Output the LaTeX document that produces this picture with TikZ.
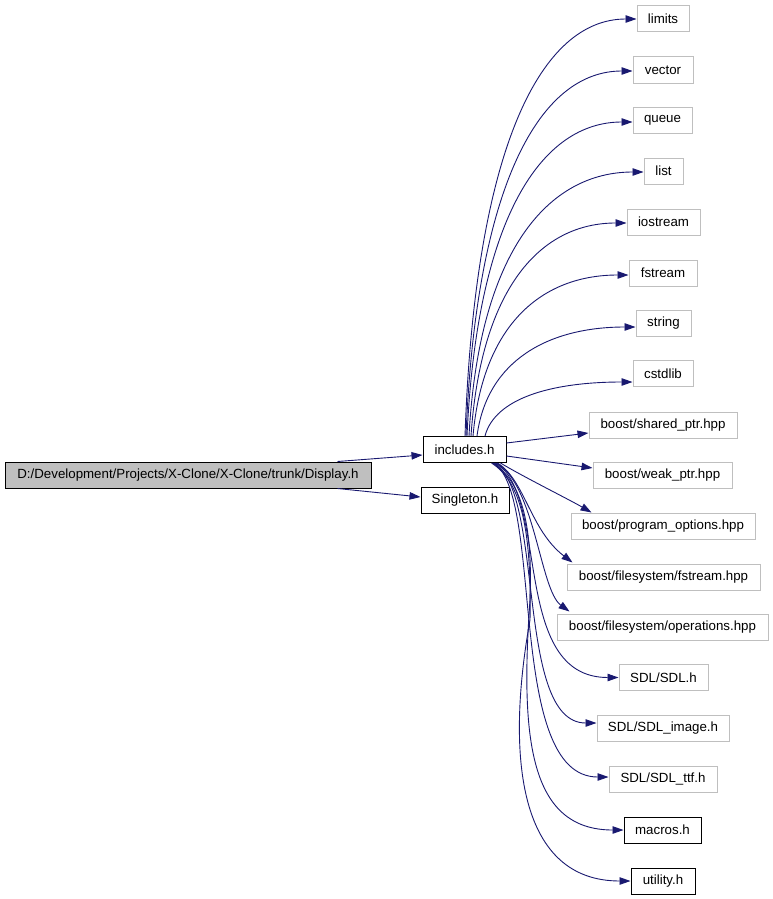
\documentclass[tikz,border=0pt]{standalone}
\usepackage{fontspec}
\setmainfont{Liberation Sans}
\usetikzlibrary{arrows.meta,calc}
\definecolor{edgeblue}{HTML}{191970}
\definecolor{boxgrey}{HTML}{BFBFBF}
\tikzset{
  fbox/.style={draw=black, line width=1pt, inner sep=0pt, minimum height=26pt, font=\fontsize{13.3}{16}\selectfont},
  gbox/.style={fbox, draw=boxgrey},
  bbox/.style={fbox, draw=black},
  mainbox/.style={fbox, draw=black, fill=boxgrey},
  edge/.style={draw=edgeblue, line width=0.9pt, -{Triangle[length=11pt,width=7.5pt]}},
}
\begin{document}
\begin{tikzpicture}[x=1pt,y=-1pt]
\useasboundingbox (0,0) rectangle (773,899);
% nodes
\node[mainbox, minimum width=366pt] (disp) at (188,475) {D:/Development/Projects/X-Clone/X-Clone/trunk/Display.h};
\node[bbox, minimum width=83pt] (inc) at (464.5,449.5) {includes.h};
\node[bbox, minimum width=88pt] (sgl) at (465,500.5) {Singleton.h};
\node[gbox, minimum width=52pt] (lim) at (663,19) {limits};
\node[gbox, minimum width=60pt] (vec) at (663,70) {vector};
\node[gbox, minimum width=59pt] (que) at (662.5,120.5) {queue};
\node[gbox, minimum width=39pt] (lst) at (663.5,171) {list};
\node[gbox, minimum width=73pt] (ios) at (663.5,222) {iostream};
\node[gbox, minimum width=68pt] (fst) at (663,273) {fstream};
\node[gbox, minimum width=55pt] (str) at (663.5,323.5) {string};
\node[gbox, minimum width=60pt] (cst) at (663,373.5) {cstdlib};
\node[gbox, minimum width=148pt] (shp) at (663,425) {boost/shared\_ptr.hpp};
\node[gbox, minimum width=139pt] (wkp) at (662.5,475) {boost/weak\_ptr.hpp};
\node[gbox, minimum width=184pt] (pgo) at (663,526) {boost/program\_options.hpp};
\node[gbox, minimum width=193pt] (fsf) at (663.5,577) {boost/filesystem/fstream.hpp};
\node[gbox, minimum width=211pt] (fso) at (662.5,627) {boost/filesystem/operations.hpp};
\node[gbox, minimum width=89pt] (sdl) at (663.5,677.5) {SDL/SDL.h};
\node[gbox, minimum width=132pt] (sdi) at (663,728.5) {SDL/SDL\_image.h};
\node[gbox, minimum width=108pt] (sdt) at (663,779) {SDL/SDL\_ttf.h};
\node[bbox, minimum width=77pt] (mac) at (662.5,830) {macros.h};
\node[bbox, minimum width=64pt] (uti) at (663,881) {utility.h};
% edges from Display.h
\draw[edge] ($(disp.north east)+(-34,0)$) -- ($(inc.west)+(0,5.5)$);
\draw[edge] ($(disp.south east)+(-34,0)$) -- ($(sgl.west)+(0,-3.5)$);
% top fan from includes.h
\draw[edge] ($(inc.north)+(0.5,0)$) .. controls (475,144) and (542,19) .. (lim.west);
\draw[edge] ($(inc.north)+(1.5,0)$) .. controls (476,181) and (541,71) .. ($(vec.west)+(0,1)$);
\draw[edge] ($(inc.north)+(2.5,0)$) .. controls (477,216) and (542,122) .. ($(que.west)+(0,1.5)$);
\draw[edge] ($(inc.north)+(4.5,0)$) .. controls (479,251) and (548,172) .. ($(lst.west)+(0,1)$);
\draw[edge] ($(inc.north)+(6.5,0)$) .. controls (481,287) and (541,223) .. ($(ios.west)+(0,1)$);
\draw[edge] ($(inc.north)+(8.5,0)$) .. controls (483,323) and (543,275) .. ($(fst.west)+(0,2)$);
\draw[edge] ($(inc.north)+(12.5,0)$) .. controls (487,360) and (549,327) .. ($(str.west)+(0,3.5)$);
\draw[edge] ($(inc.north)+(20.5,0)$) .. controls (495,398) and (552,382) .. ($(cst.west)+(0,8.5)$);
% right side
\draw[edge] ($(inc.east)+(0,-6.5)$) -- ($(shp.west)+(0,8)$);
\draw[edge] ($(inc.east)+(0,6.5)$) -- ($(wkp.west)+(0,-7)$);
% lower fan
\draw[edge] ($(inc.south east)+(-6,0)$) .. controls (520,475) and (570,500) .. ($(pgo.north west)+(21,0)$);
\draw[edge] ($(inc.south east)+(-9,0)$) .. controls (525,480) and (530,530) .. ($(fsf.north west)+(6,-1)$);
\draw[edge] ($(inc.south east)+(-10,0)$) .. controls (535,485) and (540,590) .. ($(fso.north west)+(13,-2)$);
\draw[edge] ($(inc.south east)+(-11,0)$) .. controls (550,495) and (510,677.5) .. (sdl.west);
\draw[edge] ($(inc.south east)+(-12,0)$) .. controls (545,495) and (515,723) .. ($(sdi.west)+(0,-5.5)$);
\draw[edge] ($(inc.south east)+(-13,0)$) .. controls (545,495) and (505,777) .. ($(sdt.west)+(0,-2)$);
\draw[edge] ($(inc.south east)+(-14,0)$) .. controls (520,480) and (533,520) .. (530,600)
   .. controls (520,740) and (530,830) .. (mac.west);
\draw[edge] ($(inc.south east)+(-15,0)$) .. controls (518,480) and (532,520) .. (530,620)
   .. controls (505,760) and (520,881) .. (uti.west);
\end{tikzpicture}
\end{document}
